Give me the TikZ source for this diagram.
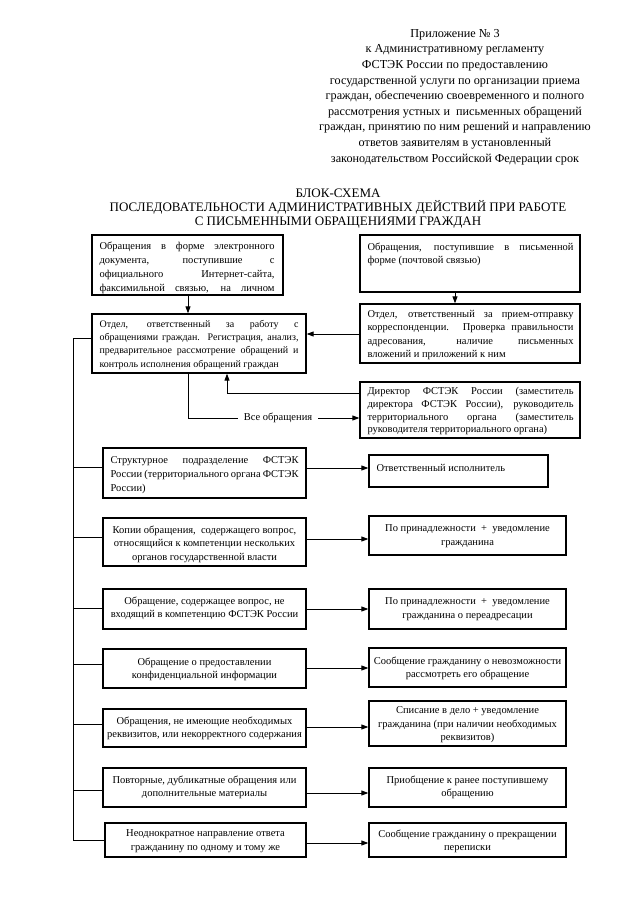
\documentclass[tikz,border=0pt]{standalone}
\usepackage{fontspec}
\setmainfont{Liberation Serif}
\usetikzlibrary{arrows.meta,fit,calc}
\hyphenpenalty=10000
\exhyphenpenalty=10000
\newcommand\jl[1]{\hbox to \hsize{#1}}
\newcommand\rl[1]{\hbox to \hsize{#1\hfil}}
\begin{document}
\begin{tikzpicture}[x=1pt,y=-1pt,
  box/.style={draw, line width=1.3pt, inner sep=0pt},
  ln/.style={line width=0.9pt},
  arr/.style={line width=0.9pt, -{Triangle[length=7pt,width=5pt]}},
  txt/.style={font=\fontsize{10.5}{13.6}\selectfont, inner sep=0pt},
  ctxt/.style={txt, align=center, anchor=north},
  jtxt/.style={txt, anchor=north west},
]
\path[use as bounding box, fill=white] (0,0) rectangle (640,905);

% header
\node[font=\fontsize{12.2}{15.6}\selectfont, align=center, anchor=north, inner sep=0pt] (hdr) at (455,29)
{Приложение № 3\\к Административному регламенту\\ФСТЭК России по предоставлению\\государственной услуги по организации приема\\граждан, обеспечению своевременного и полного\\рассмотрения устных и \ письменных обращений\\граждан, принятию по ним решений и направлению\\ответов заявителям в установленный\\законодательством Российской Федерации срок};

\node[font=\fontsize{13}{14}\selectfont, align=center, anchor=north, inner sep=0pt] (ttl) at (338,189)
{БЛОК-СХЕМА\\ПОСЛЕДОВАТЕЛЬНОСТИ АДМИНИСТРАТИВНЫХ ДЕЙСТВИЙ ПРИ РАБОТЕ\\С ПИСЬМЕННЫМИ ОБРАЩЕНИЯМИ ГРАЖДАН};

% top boxes
\node[box, fit={(92,235) (283,295)}] (bA) {};
\node[jtxt] (tA) at ($(bA.north west)+(8,7)$) {\vbox{\hsize=175pt \baselineskip=14pt
 \jl{Обращения в форме электронного}\jl{документа, поступившие с}\jl{официального Интернет-сайта,}\jl{факсимильной связью, на личном}}};

\node[box, fit={(360,235) (580,292)}] (bB) {};
\node[jtxt] (tB) at ($(bB.north west)+(8,8)$) {\vbox{\hsize=206pt
 \jl{Обращения, поступившие в письменной}\rl{форме (почтовой связью)}}};

\node[box, fit={(92,314) (306,373)}] (bC) {};
\node[jtxt, font=\fontsize{10}{13.1}\selectfont] (tC) at ($(bC.north west)+(8,7)$) {\vbox{\hsize=199pt
 \jl{Отдел, ответственный за работу с}\jl{обращениями граждан. Регистрация, анализ,}\jl{предварительное рассмотрение обращений и}\rl{контроль исполнения обращений граждан}}};

\node[box, fit={(360,304) (580,363)}] (bD) {};
\node[jtxt] (tD) at ($(bD.north west)+(8,7)$) {\vbox{\hsize=206pt \baselineskip=13.2pt
 \jl{Отдел, ответственный за прием-отправку}\jl{корреспонденции. Проверка правильности}\jl{адресования, наличие письменных}\rl{вложений и приложений к ним}}};

\node[box, fit={(360,382) (580,438)}] (bE) {};
\node[jtxt] (tE) at ($(bE.north west)+(8,6)$) {\vbox{\hsize=206pt \baselineskip=12.6pt
 \jl{Директор ФСТЭК России (заместитель}\jl{директора ФСТЭК России), руководитель}\jl{территориального органа (заместитель}\rl{руководителя территориального органа)}}};

% top connectors
\coordinate (xA) at (188,0);
\coordinate (xB) at (455,0);
\coordinate (yD) at (0,334);
\coordinate (yE) at (0,393);
\coordinate (xE) at (227,0);
\coordinate (yT) at (0,338);
\draw[arr] (bA.south -| xA) -- (bC.north -| xA);
\draw[arr] (bB.south -| xB) -- (bD.north -| xB);
\draw[arr] (bD.west |- yD) -- (bC.east |- yD);
\draw[arr] (bE.west |- yE) -| (bC.south -| xE);
\node[txt, inner xsep=6pt] (vse) at (278,418) {Все обращения};
\draw[ln] (bC.south -| xA) |- (vse.west);
\draw[arr] (vse.east) -- (bE.west |- vse.east);

% left column
\node[box, fit={(103,448) (306,498)}] (L1) {};
\node[jtxt] (tL1) at ($(L1.north west)+(8,9)$) {\vbox{\hsize=188pt \baselineskip=14pt
 \jl{Структурное подразделение ФСТЭК}\jl{России (территориального органа ФСТЭК}\rl{России)}}};
\node[box, fit={(103,518) (306,566)}] (L2) {};
\node[ctxt] (tL2) at ($(L2.north)+(0,8)$) {Копии обращения, \ содержащего вопрос,\\относящийся к компетенции нескольких\\органов государственной власти};
\node[box, fit={(103,589) (306,629)}] (L3) {};
\node[ctxt] (tL3) at ($(L3.north)+(0,8)$) {Обращение, содержащее вопрос, не\\входящий в компетенцию ФСТЭК России};
\node[box, fit={(103,649) (306,688)}] (L4) {};
\node[ctxt] (tL4) at ($(L4.north)+(0,9)$) {Обращение о предоставлении\\конфиденциальной информации};
\node[box, fit={(103,709) (306,747)}] (L5) {};
\node[ctxt] (tL5) at ($(L5.north)+(0,8)$) {Обращения, не имеющие необходимых\\реквизитов, или некорректного содержания};
\node[box, fit={(103,768) (306,807)}] (L6) {};
\node[ctxt] (tL6) at ($(L6.north)+(0,8)$) {Повторные, дубликатные обращения или\\дополнительные материалы};
\node[box, fit={(105,823) (306,857)}] (L7) {};
\node[ctxt] (tL7) at ($(L7.north)+(0,7)$) {Неоднократное направление ответа\\гражданину по одному и тому же};

% right column
\node[box, fit={(369,455) (548,487)}] (R1) {};
\node[jtxt] (tR1) at ($(R1.north west)+(8,10)$) {Ответственный исполнитель};
\node[box, fit={(369,516) (566,555)}] (R2) {};
\node[ctxt] (tR2) at ($(R2.north)+(0,9)$) {По принадлежности \ + \ уведомление\\гражданина};
\node[box, fit={(369,589) (566,629)}] (R3) {};
\node[ctxt] (tR3) at ($(R3.north)+(0,9)$) {По принадлежности \ + \ уведомление\\гражданина о переадресации};
\node[box, fit={(369,648) (566,687)}] (R4) {};
\node[ctxt] (tR4) at ($(R4.north)+(0,9)$) {Сообщение гражданину о невозможности\\рассмотреть его обращение};
\node[box, fit={(369,701) (566,746)}] (R5) {};
\node[ctxt] (tR5) at ($(R5.north)+(0,6)$) {Списание в дело + уведомление\\гражданина (при наличии необходимых\\реквизитов)};
\node[box, fit={(369,768) (566,807)}] (R6) {};
\node[ctxt] (tR6) at ($(R6.north)+(0,8)$) {Приобщение к ранее поступившему\\обращению};
\node[box, fit={(369,823) (566,857)}] (R7) {};
\node[ctxt] (tR7) at ($(R7.north)+(0,7)$) {Сообщение гражданину о прекращении\\переписки};

% trunk, branches, arrows
\coordinate (tr) at (73,0);
\foreach \i/\by/\ay in {1/467/468, 2/537/539, 3/608/609, 4/664/668, 5/724/727, 6/790/793, 7/840/843} {
  \coordinate (b\i) at (73,\by);
  \coordinate (a\i) at (0,\ay);
  \draw[ln] (b\i) -- (L\i.west |- b\i);
  \draw[arr] (L\i.east |- a\i) -- (R\i.west |- a\i);
}
\draw[ln] (bC.west |- yT) -| (b7);
\end{tikzpicture}
\end{document}
